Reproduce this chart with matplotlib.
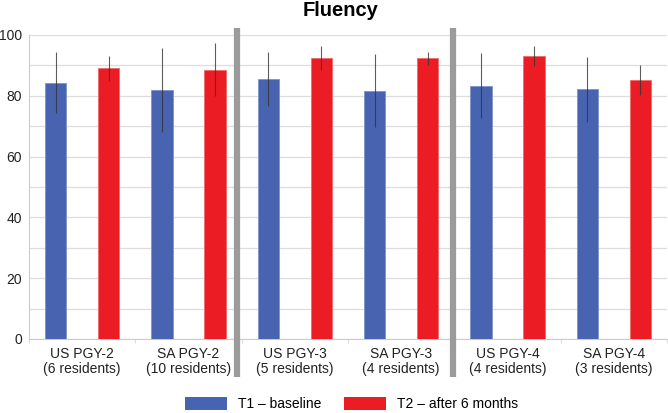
import matplotlib
matplotlib.use("Agg")
import matplotlib.pyplot as plt
import numpy as np
from matplotlib.patches import Patch

plt.rcParams['font.family'] = ['Liberation Sans', 'DejaVu Sans']

categories = ["US PGY-2\n(6 residents)", "SA PGY-2\n(10 residents)", "US PGY-3\n(5 residents)",
              "SA PGY-3\n(4 residents)", "US PGY-4\n(4 residents)", "SA PGY-4\n(3 residents)"]
t1_values = [84.3, 81.9, 85.6, 81.7, 83.3, 82.1]
t1_err = [10.0, 13.7, 8.8, 12.0, 10.7, 10.7]
t2_values = [89.0, 88.6, 92.5, 92.3, 93.1, 85.2]
t2_err = [4.2, 8.7, 3.9, 2.2, 3.4, 4.9]
series_names = ["T1 \u2013 baseline", "T2 \u2013 after 6 months"]
yticks = [0, 20, 40, 60, 80, 100]

blue = "#4864B0"
red = "#EC1C24"

fig = plt.figure(figsize=(6.68, 4.13), dpi=100)
ax = fig.add_axes([29/668, 1-339/413, 1-29/668-1/668, (339-35)/413])

x = np.arange(len(categories))
w = 0.2
ax.bar(x-0.25, t1_values, w, color=blue, edgecolor="#7F93CC", linewidth=0.6, zorder=3)
ax.bar(x+0.25, t2_values, w, color=red, edgecolor="#F06A6E", linewidth=0.6, zorder=3)
ax.errorbar(x-0.25, t1_values, yerr=t1_err, fmt='none', ecolor="#333333", elinewidth=0.8, capsize=0, zorder=4, alpha=0.8)
ax.errorbar(x+0.25, t2_values, yerr=t2_err, fmt='none', ecolor="#333333", elinewidth=0.8, capsize=0, zorder=4, alpha=0.8)

ax.set_xlim(-0.5, len(categories)-0.5)
ax.set_ylim(0, 100)
ax.set_yticks(yticks)
ax.set_yticks(np.arange(0, 101, 10), minor=True)
ax.tick_params(axis='y', which='both', length=0, labelsize=10, pad=5, colors="#222222")
ax.grid(axis='y', which='both', color="#DDDDDD", linewidth=0.9, zorder=0)
ax.set_xticks(x)
ax.set_xticklabels(categories, fontsize=10, color="#222222", linespacing=1.05)
ax.tick_params(axis='x', which='major', length=0, pad=6)
ax.set_xticks(np.arange(-0.5, len(categories), 1), minor=True)
ax.tick_params(axis='x', which='minor', length=3, color="#DDDDDD", width=0.8)

for s in ['top', 'right']:
    ax.spines[s].set_visible(False)
ax.spines['left'].set_color("#CCCCCC")
ax.spines['bottom'].set_color("#CCCCCC")

for sx in [1.46, 3.49]:
    ax.plot([sx, sx], [102.2, -12.5], color="#9B9B9B", linewidth=4.5,
            clip_on=False, zorder=5, solid_capstyle='butt')

fig.text(341/668, 1-15.5/413, "Fluency", ha='center', va='baseline', fontsize=14.5, fontweight='bold')

handles = [Patch(facecolor=blue, edgecolor='none'), Patch(facecolor=red, edgecolor='none')]
fig.legend(handles, series_names, loc='center', bbox_to_anchor=(351.5/668, 1-404/413),
           ncol=2, frameon=False, fontsize=10, handlelength=3.0, handleheight=1.15,
           columnspacing=1.65, handletextpad=0.8)

fig.savefig("out.png", dpi=100)
